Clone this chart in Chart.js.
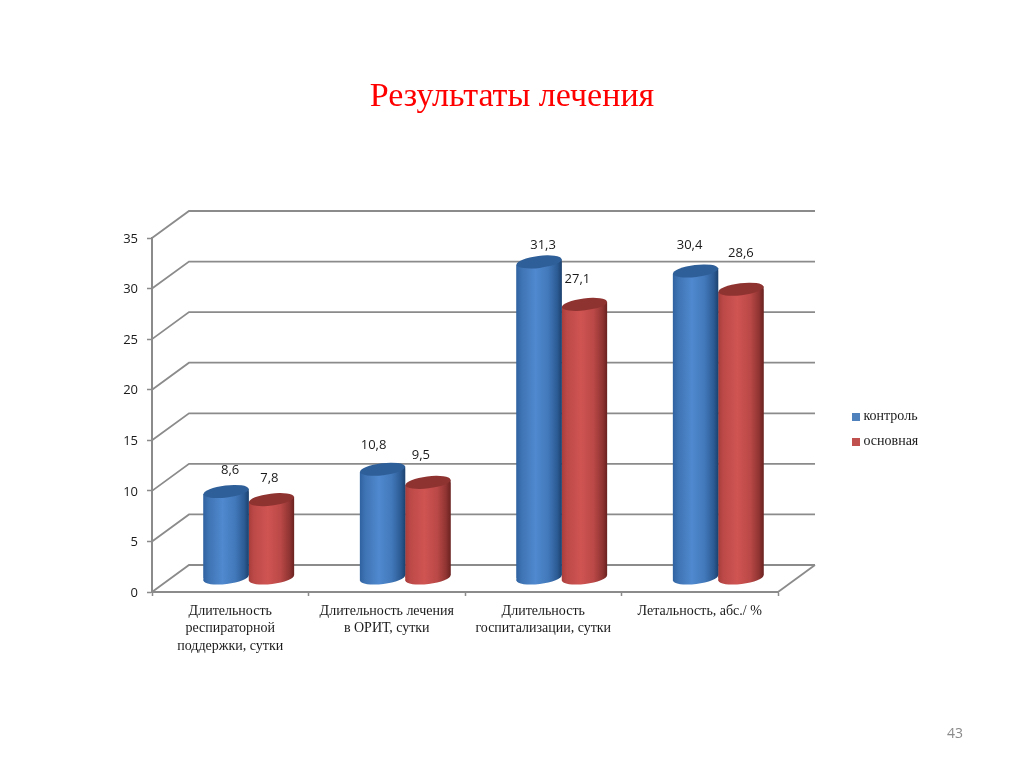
<!DOCTYPE html>
<html lang="ru"><head><meta charset="utf-8">
<style>html,body{margin:0;padding:0;background:#fff}canvas{display:block}</style>
<script src="https://cdn.jsdelivr.net/npm/chart.js@4/dist/chart.umd.min.js"></script>
</head><body><canvas id="c" width="1024" height="767" style="width:1024px;height:767px"></canvas>
<script>
const categories = [
  ['Длительность','респираторной','поддержки, сутки'],
  ['Длительность лечения','в ОРИТ, сутки'],
  ['Длительность','госпитализации, сутки'],
  ['Летальность, абс./ %']
];
const seriesNames = ['контроль','основная'];
const control = [8.6, 10.8, 31.3, 30.4];
const treated = [7.8, 9.5, 27.1, 28.6];
const pageNumber = '43';
const titleText = 'Результаты лечения';

// style / placement
const DEPTH = {x:37, y:-27}, MID = {x:18.5, y:-13.5};
const GRID = '#8b8b8b';
const labelNudge = [
  [[4,-21],[-9,-24],[4,-17],[-6,-26]],
  [[-2,-21],[-7,-27],[-7,-25],[0,-36]]
];
const looks = [
  {legend:'#4f81bd', top:'#2f5f98', stops:[[0,'#2f62a0'],[.12,'#3f74b4'],[.42,'#5089cf'],[.7,'#4279bb'],[.9,'#2c5b94'],[1,'#1c426f']]},
  {legend:'#c0504d', top:'#8f3331', stops:[[0,'#a83d3b'],[.12,'#bd4a48'],[.42,'#cf5452'],[.7,'#bb4947'],[.9,'#8f3432'],[1,'#6a2220']]}
];
const RY = 6, TILT = -7*Math.PI/180;

function swatch(color){
  const s = document.createElement('canvas'); s.width = 8; s.height = 8;
  const x = s.getContext('2d'); x.fillStyle = color; x.fillRect(0,0,8,8);
  return s;
}
function barGradient(chart, ds, cx, w){
  const g = chart.ctx.createLinearGradient(cx-w/2,0,cx+w/2,0);
  looks[ds].stops.forEach(s=>g.addColorStop(s[0],s[1]));
  return g;
}
function geom(el){ return {x:el.x, top:el.y, base:el.base, w:el.width}; }
function bodyPath(ctx,g,dy){
  ctx.moveTo(g.x-g.w/2,g.top+dy);
  ctx.lineTo(g.x+g.w/2,g.top-dy);
  ctx.lineTo(g.x+g.w/2,g.base-dy);
  ctx.lineTo(g.x-g.w/2,g.base+dy);
  ctx.closePath();
}
function scriptedFill(ctx){
  const c = ctx.chart, sx = c.scales.x;
  if(!sx || ctx.dataIndex===undefined) return looks[ctx.datasetIndex].legend;
  const w = sx.getPixelForValue(1)-sx.getPixelForValue(0);
  const bw = w*0.58/2;
  const cx = sx.getPixelForValue(ctx.dataIndex)+(ctx.datasetIndex===0?-bw/2:bw/2);
  return barGradient(c, ctx.datasetIndex, cx, bw);
}

const cylinder3d = {
  id:'cylinder3d',
  afterLayout(chart){
    const t = chart.titleBlock; t.left=0; t.right=1024;
    const l = chart.legend; l.left=844.5; l.right=1000; l.top=398.5; l.bottom=470;
  },
  beforeDatasetsDraw(chart){
    const {ctx, scales:{x,y}} = chart;
    ctx.save();
    ctx.strokeStyle = GRID; ctx.lineWidth = 1.8;
    y.ticks.forEach(t=>{
      const py = y.getPixelForValue(t.value);
      ctx.beginPath();
      ctx.moveTo(x.left,py);
      ctx.lineTo(x.left+DEPTH.x,py+DEPTH.y);
      ctx.lineTo(x.right+DEPTH.x,py+DEPTH.y);
      ctx.stroke();
    });
    const p0 = y.getPixelForValue(0);
    ctx.beginPath();
    ctx.moveTo(x.right,p0);
    ctx.lineTo(x.right+DEPTH.x,p0+DEPTH.y);
    ctx.stroke();
    ctx.restore();
  },
  beforeDatasetDraw(chart,args){
    const {ctx} = chart, meta = args.meta;
    const rise = Math.sin(-TILT);
    ctx.save();
    ctx.translate(MID.x,MID.y);
    meta.data.forEach(el=>{
      const g = geom(el), dy = g.w/2*rise;
      ctx.fillStyle = barGradient(chart,args.index,g.x,g.w);
      ctx.beginPath();
      ctx.ellipse(g.x,g.base,g.w/2,RY,TILT,0,Math.PI*2);
      ctx.fill();
      ctx.beginPath();
      bodyPath(ctx,g,dy);
      ctx.fill();
    });
    ctx.save();
    ctx.beginPath();
    meta.data.forEach(el=>{ const g = geom(el); bodyPath(ctx,g,g.w/2*rise); });
    ctx.clip();
  },
  afterDatasetDraw(chart,args){
    const {ctx} = chart;
    ctx.restore();
    args.meta.data.forEach(el=>{
      const g = geom(el);
      ctx.fillStyle = looks[args.index].top;
      ctx.beginPath();
      ctx.ellipse(g.x,g.top,g.w/2,RY,TILT,0,Math.PI*2);
      ctx.fill();
    });
    ctx.restore();
  },
  afterDraw(chart){
    const {ctx} = chart;
    ctx.save();
    ctx.font = '13px "Open Sans"';
    ctx.fillStyle = '#1a1a1a';
    ctx.textAlign = 'center'; ctx.textBaseline = 'middle';
    chart.data.datasets.forEach((ds,d)=>{
      chart.getDatasetMeta(d).data.forEach((el,i)=>{
        const n = labelNudge[d][i];
        ctx.fillText(String(ds.data[i]).replace('.',','), el.x+MID.x+n[0], el.y+MID.y+n[1]);
      });
    });
    ctx.font = '14px "Open Sans"';
    ctx.fillStyle = '#8a8a8a';
    ctx.fillText(pageNumber,955,734);
    ctx.restore();
  }
};

new Chart(document.getElementById('c'),{
  type:'bar',
  data:{
    labels:categories,
    datasets:[
      {label:seriesNames[0],data:control,backgroundColor:scriptedFill,clip:false,borderWidth:0},
      {label:seriesNames[1],data:treated,backgroundColor:scriptedFill,clip:false,borderWidth:0}
    ]
  },
  plugins:[cylinder3d],
  options:{
    responsive:false,animation:false,devicePixelRatio:1,
    categoryPercentage:0.58,barPercentage:1,
    layout:{padding:{left:0,right:246,top:0,bottom:0}},
    plugins:{
      tooltip:{enabled:false},
      title:{display:true,text:titleText,color:'#ff0000',
        font:{family:'"Liberation Serif"',size:34,weight:'normal',lineHeight:1.2},
        padding:{top:77,bottom:120.2}},
      legend:{position:'chartArea',align:'start',
        labels:{usePointStyle:true,pointStyleWidth:1,boxHeight:8,padding:11,color:'#1a1a1a',
          font:{family:'"Liberation Serif"',size:14},
          generateLabels:()=>seriesNames.map((n,i)=>({text:n,pointStyle:swatch(looks[i].legend),fillStyle:looks[i].legend,strokeStyle:looks[i].legend,lineWidth:0,datasetIndex:i,fontColor:'#1a1a1a'}))}}
    },
    scales:{
      x:{
        offset:true,
        grid:{drawOnChartArea:false,offset:true,tickLength:4,tickColor:GRID,tickWidth:1.5},
        border:{color:GRID,width:2},
        ticks:{autoSkip:false,maxRotation:0,minRotation:0,padding:6,color:'#1a1a1a',
          font:{family:'"Liberation Serif"',size:14,lineHeight:1.27}},
        afterFit(s){s.height=175;}
      },
      y:{
        min:0,max:35,
        grid:{drawOnChartArea:false,tickLength:5,tickColor:GRID,tickWidth:1.5},
        border:{color:GRID,width:2},
        ticks:{stepSize:5,padding:9,labelOffset:1,color:'#1a1a1a',font:{family:'"Open Sans"',size:13}},
        afterFit(s){s.width=152;}
      }
    }
  }
});
</script></body></html>
